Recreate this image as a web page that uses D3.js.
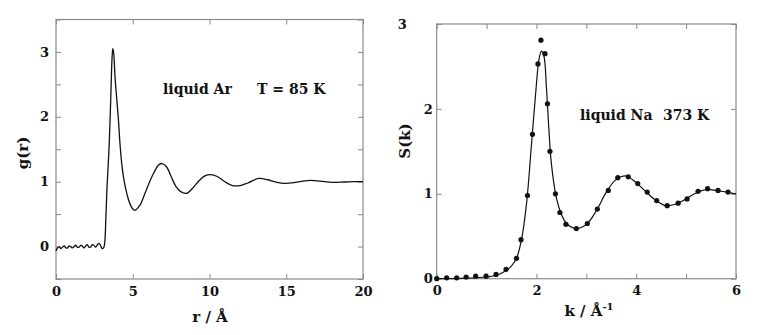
<!DOCTYPE html>
<html><head><meta charset="utf-8">
<script src="https://cdn.jsdelivr.net/npm/d3@7"></script>
<style>
body{margin:0;background:#fff;}
svg{display:block;}
text{font-family:"DejaVu Serif",serif;font-weight:bold;fill:#111;}
</style></head><body>
<svg id="c" width="763" height="335"></svg>
<script>
// ---- data: liquid Ar g(r) ----
const grPoints = [
 [0,-0.07],[0.1,-0.02],[0.2,0.0],[0.3,-0.03],[0.42,-0.01],[0.53,0.01],[0.64,-0.02],[0.75,-0.02],
 [0.85,0.01],[0.96,0.0],[1.07,-0.02],[1.18,0.0],[1.28,0.02],[1.39,-0.01],[1.5,-0.01],[1.61,0.02],
 [1.71,0.01],[1.82,-0.02],[1.93,0.01],[2.04,0.03],[2.14,-0.01],[2.25,-0.01],[2.36,0.03],[2.47,0.02],
 [2.57,-0.01],[2.68,0.02],[2.79,0.05],[2.9,0.02],[3.0,-0.03],[3.1,-0.02],[3.17,0.05],[3.25,0.45],
 [3.33,0.95],[3.41,1.3],[3.47,1.6],[3.53,2.0],[3.6,2.55],[3.65,2.9],[3.7,3.05],[3.75,3.0],[3.85,2.6],
 [3.95,2.3],[4.06,1.98],[4.17,1.58],[4.3,1.24],[4.42,1.04],[4.55,0.88],[4.7,0.74],[4.85,0.64],[5.0,0.58],
 [5.15,0.56],[5.35,0.6],[5.5,0.65],[5.8,0.82],[6.1,1.0],[6.4,1.15],[6.7,1.26],[6.9,1.28],[7.2,1.23],
 [7.5,1.08],[7.8,0.93],[8.1,0.85],[8.5,0.82],[8.9,0.9],[9.3,1.01],[9.7,1.09],[10.1,1.11],[10.5,1.08],
 [11.0,1.0],[11.5,0.94],[12.0,0.94],[12.5,0.98],[13.2,1.05],[13.8,1.03],[14.4,0.99],[14.9,0.975],
 [15.5,0.985],[16.0,1.005],[16.6,1.02],[17.2,1.01],[18.0,0.99],[18.8,0.995],[19.4,1.0],[20,1.0]
];
const grXTicks = [0,5,10,15,20];
const grYLabelTicks = [0,1,2,3];
const grYMinorTicks = [-0.5,0,0.5,1,1.5,2,2.5,3,3.5];

// ---- data: liquid Na S(k) ----
const skCurve = [
 [0,0.0],[0.5,0.005],[1.0,0.02],[1.2,0.04],[1.4,0.10],[1.5,0.15],[1.6,0.24],[1.7,0.46],[1.8,0.88],
 [1.9,1.58],[2.0,2.3],[2.05,2.58],[2.1,2.68],[2.15,2.62],[2.2,2.25],[2.25,1.75],[2.3,1.35],[2.4,0.95],
 [2.5,0.76],[2.6,0.65],[2.8,0.59],[3.0,0.64],[3.2,0.80],[3.4,1.02],[3.6,1.17],[3.8,1.21],[4.0,1.13],
 [4.2,1.02],[4.4,0.92],[4.6,0.86],[4.8,0.88],[5.0,0.94],[5.2,1.01],[5.4,1.05],[5.6,1.04],[5.8,1.02],[6.0,1.0]
];
const skDots = [
 [0,0],[0.2,0.01],[0.4,0.01],[0.59,0.02],[0.78,0.03],[0.99,0.03],[1.19,0.05],[1.39,0.11],[1.6,0.24],
 [1.69,0.46],[1.82,0.98],[1.92,1.70],[2.03,2.53],[2.09,2.81],[2.17,2.65],[2.22,2.06],[2.27,1.50],
 [2.38,1.00],[2.47,0.78],[2.59,0.64],[2.80,0.59],[3.02,0.65],[3.22,0.82],[3.44,1.04],[3.63,1.19],
 [3.84,1.20],[4.03,1.12],[4.22,1.02],[4.41,0.92],[4.62,0.86],[4.84,0.89],[5.02,0.94],[5.24,1.03],
 [5.43,1.06],[5.64,1.04],[5.84,1.02]
];
const skXTicks = [0,1,2,3,4,5,6];
const skXLabelTicks = [0,2,4,6];
const skYTicks = [0,1,2,3];

const svg = d3.select("#c");
const frameColor = "#8a8a8a";
const FONT = '"DejaVu Serif",serif';

function panel(opt){
  const g = svg.append("g");
  const x = opt.x, y = opt.y;
  const [x0,x1] = x.range(), [y0,y1] = y.range();
  const tk = (axis, tr) => {
    const a = g.append("g").attr("transform", tr).call(axis);
    a.select(".domain").remove();
    a.selectAll("line").attr("stroke", frameColor).attr("stroke-width",1);
    return a;
  };
  tk(d3.axisBottom(x).tickValues(opt.xTicks).tickSize(-5).tickFormat(""), `translate(0,${y0})`);
  tk(d3.axisTop(x).tickValues(opt.xTicks).tickSize(-5).tickFormat(""), `translate(0,${y1})`);
  tk(d3.axisLeft(y).tickValues(opt.yTicks).tickSize(-5).tickFormat(""), `translate(${x0},0)`);
  tk(d3.axisRight(y).tickValues(opt.yTicks).tickSize(-5).tickFormat(""), `translate(${x1},0)`);
  const xl = g.append("g").attr("transform", `translate(0,${y0})`)
    .call(d3.axisBottom(x).tickValues(opt.xLabels).tickSize(0).tickPadding(opt.xPad).tickFormat(d3.format("d")));
  xl.select(".domain").remove();
  const yl = g.append("g").attr("transform", `translate(${x0},0)`)
    .call(d3.axisLeft(y).tickValues(opt.yLabels).tickSize(0).tickPadding(opt.yPad).tickFormat(d3.format("d")));
  yl.select(".domain").remove();
  g.selectAll(".tick text").style("font-family",FONT)
    .style("font-weight","bold").style("font-size","13px").attr("fill","#111");
  g.append("rect").attr("x",x0).attr("y",y1).attr("width",x1-x0).attr("height",y0-y1)
    .attr("fill","none").attr("stroke",frameColor).attr("stroke-width",1.2);
  return {g, yl, xl};
}

// Left panel
const xL = d3.scaleLinear().domain([0,20]).range([56,363]);
const yL = d3.scaleLinear().domain([-0.5,3.5]).range([279,19.5]);
const pL = panel({x:xL,y:yL,xTicks:grXTicks,yTicks:grYMinorTicks,xLabels:grXTicks,yLabels:grYLabelTicks,xPad:8,yPad:7});
pL.g.append("path").datum(grPoints)
  .attr("d", d3.line().x(d=>xL(d[0])).y(d=>yL(d[1])).curve(d3.curveCatmullRom.alpha(0.5)))
  .attr("fill","none").attr("stroke","#111").attr("stroke-width",1.3);
pL.g.append("text").attr("x",163).attr("y",94).attr("font-size",14).text("liquid Ar");
pL.g.append("text").attr("x",257).attr("y",94).attr("font-size",14).text("T = 85 K");
pL.g.append("text").attr("text-anchor","middle").attr("font-size",15)
  .attr("transform","translate(28,153) rotate(-90)").text("g(r)");
pL.g.append("text").attr("x",210).attr("y",322).attr("text-anchor","middle").attr("font-size",15).text("r / Å");

// Right panel
const xR = d3.scaleLinear().domain([0,6]).range([436.7,736]);
const yR = d3.scaleLinear().domain([0,3]).range([278.7,24]);
const pR = panel({x:xR,y:yR,xTicks:skXTicks,yTicks:skYTicks,xLabels:skXLabelTicks,yLabels:skYTicks,xPad:7,yPad:4});
pR.yl.selectAll(".tick").filter(d=>d===3).select("text").attr("x",-30);
pR.g.append("path").datum(skCurve)
  .attr("d", d3.line().x(d=>xR(d[0])).y(d=>yR(d[1])).curve(d3.curveCatmullRom.alpha(0.5)))
  .attr("fill","none").attr("stroke","#111").attr("stroke-width",1.2);
pR.g.selectAll("circle.dot").data(skDots).join("circle").attr("class","dot")
  .attr("cx",d=>xR(d[0])).attr("cy",d=>yR(d[1])).attr("r",2.6).attr("fill","#111");
pR.g.append("text").attr("x",580).attr("y",120).attr("font-size",14).text("liquid Na");
pR.g.append("text").attr("x",663).attr("y",120).attr("font-size",14).text("373 K");
pR.g.append("text").attr("text-anchor","middle").attr("font-size",15)
  .attr("transform","translate(410,141) rotate(-90)").text("S(k)");
const kl = pR.g.append("text").attr("x",589).attr("y",316).attr("text-anchor","middle").attr("font-size",15);
kl.append("tspan").text("k / Å");
kl.append("tspan").attr("dy",-6).attr("font-size",10).text("-1");
</script>
</body></html>
